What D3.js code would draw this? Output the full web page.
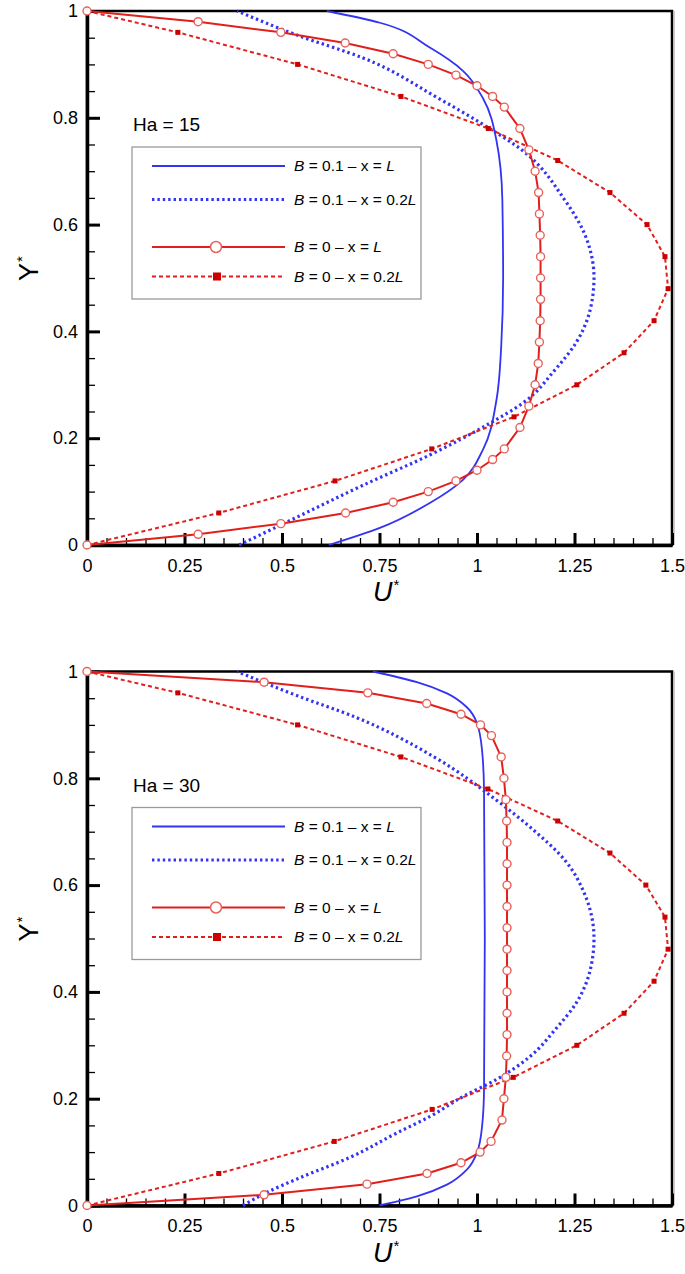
<!DOCTYPE html>
<meta charset="utf-8">
<style>
  body { margin: 0; background: #fff; }
  svg { font-family: "Liberation Sans", Arial, sans-serif; }
  .axis path, .axis line { stroke: #000; fill: none; }
  .axis text { font-size: 18px; fill: #000; }
</style>
<body>
<script src="https://cdn.jsdelivr.net/npm/d3@7"></script>
<script>
// tick values
var uTicks = [0, 0.25, 0.5, 0.75, 1, 1.25, 1.5];
var uTickLabels = ["0", "0.25", "0.5", "0.75", "1", "1.25", "1.5"];
var yTicks = [0, 0.2, 0.4, 0.6, 0.8, 1];
var yTickLabels = ["0", "0.2", "0.4", "0.6", "0.8", "1"];

// legend: B value and x position
var legendB = ["0.1", "0.1", "0", "0"];
var legendX = ["", "0.2", "", "0.2"];

// Ha = 15
var ha15BlueLY = [0, 0.032, 0.079, 0.122, 0.178, 0.272, 0.371, 0.5, 0.646, 0.757, 0.837, 0.888, 0.931, 0.978, 1];
var ha15BlueLU = [0.62, 0.751, 0.88, 0.964, 1.015, 1.05, 1.062, 1.067, 1.065, 1.05, 1.015, 0.964, 0.88, 0.751, 0.615];
var ha15Blue02Y = [0, 0.052, 0.112, 0.169, 0.228, 0.266, 0.328, 0.38, 0.44, 0.5, 0.584, 0.646, 0.738, 0.79, 0.837, 0.912, 0.955, 1];
var ha15Blue02U = [0.39, 0.538, 0.708, 0.88, 1.033, 1.118, 1.2, 1.255, 1.29, 1.30, 1.275, 1.225, 1.118, 1.01, 0.9, 0.708, 0.538, 0.385];
var ha15RedLY = [0, 0.02, 0.04, 0.06, 0.08, 0.10, 0.12, 0.14, 0.16, 0.18, 0.22, 0.26, 0.30, 0.34, 0.38, 0.42, 0.46, 0.50,
                 0.54, 0.58, 0.62, 0.66, 0.70, 0.74, 0.78, 0.82, 0.84, 0.86, 0.88, 0.90, 0.92, 0.94, 0.96, 0.98, 1];
var ha15RedLU = [0, 0.285, 0.497, 0.663, 0.785, 0.875, 0.946, 1.0, 1.04, 1.07, 1.11, 1.133, 1.149, 1.157, 1.16, 1.162, 1.163, 1.163,
                 1.163, 1.162, 1.16, 1.158, 1.149, 1.133, 1.11, 1.07, 1.04, 1.0, 0.946, 0.875, 0.785, 0.662, 0.497, 0.285, 0];
var ha15Red02Y = [0, 0.06, 0.12, 0.18, 0.24, 0.30, 0.36, 0.42, 0.48, 0.54, 0.60, 0.66, 0.72, 0.78, 0.84, 0.90, 0.96, 1];
var ha15Red02U = [0, 0.338, 0.636, 0.884, 1.095, 1.256, 1.377, 1.454, 1.49, 1.482, 1.436, 1.341, 1.207, 1.029, 0.805, 0.54, 0.233, 0];

// Ha = 30
var ha30BlueLY = [0, 0.017, 0.039, 0.067, 0.099, 0.148, 0.217, 0.5, 0.778, 0.852, 0.903, 0.933, 0.959, 0.98, 1];
var ha30BlueLU = [0.75, 0.846, 0.923, 0.974, 1.0, 1.013, 1.018, 1.02, 1.018, 1.013, 1.0, 0.974, 0.923, 0.846, 0.733];
var ha30Blue02Y = [0, 0.024, 0.052, 0.09, 0.136, 0.167, 0.204, 0.236, 0.279, 0.329, 0.38, 0.44, 0.5, 0.585, 0.647, 0.703, 0.759, 0.84, 0.914, 0.955, 1];
var ha30Blue02U = [0.40, 0.46, 0.546, 0.674, 0.795, 0.88, 0.964, 1.05, 1.136, 1.2, 1.255, 1.29, 1.30, 1.275, 1.225, 1.145, 1.05, 0.89, 0.69, 0.538, 0.385];
var ha30RedLY = [0, 0.02, 0.04, 0.06, 0.08, 0.10, 0.12, 0.16, 0.20, 0.24, 0.28, 0.32, 0.36, 0.40, 0.44, 0.48,
                 0.52, 0.56, 0.60, 0.64, 0.68, 0.72, 0.76, 0.80, 0.84, 0.88, 0.90, 0.92, 0.94, 0.96, 0.98, 1];
var ha30RedLU = [0, 0.454, 0.718, 0.872, 0.959, 1.008, 1.036, 1.064, 1.069, 1.074, 1.076, 1.077, 1.077, 1.077, 1.077, 1.077,
                 1.077, 1.077, 1.077, 1.077, 1.077, 1.076, 1.074, 1.069, 1.062, 1.037, 1.009, 0.959, 0.871, 0.72, 0.454, 0];
var ha30Red02Y = [0, 0.06, 0.12, 0.18, 0.24, 0.30, 0.36, 0.42, 0.48, 0.54, 0.60, 0.66, 0.72, 0.78, 0.84, 0.90, 0.96, 1];
var ha30Red02U = [0, 0.338, 0.634, 0.885, 1.093, 1.256, 1.377, 1.454, 1.49, 1.482, 1.433, 1.341, 1.207, 1.028, 0.805, 0.54, 0.233, 0];

var blue = "#3333f4", red = "#e0201c", redMark = "#e8625c", redSq = "#cc0000";

var width = 585, height = 534;

var svg = d3.select("body").append("svg")
  .attr("width", 685)
  .attr("height", 1274);

function zip(us, ys) {
  return ys.map(function (y, i) { return {u: us[i], y: y}; });
}

function panel(top, haText, s) {
  var g = svg.append("g").attr("transform", "translate(87," + top + ")");

  var x = d3.scaleLinear().domain([0, 1.5]).range([0, width]);
  var y = d3.scaleLinear().domain([0, 1]).range([height, 0]);

  // frame
  g.append("rect")
    .attr("width", width).attr("height", height)
    .attr("fill", "none").attr("stroke", "#000").attr("stroke-width", 2.5);
  g.append("line")
    .attr("x1", width + 2).attr("x2", width + 2).attr("y1", 0).attr("y2", height)
    .attr("stroke", "#bbb").attr("stroke-width", 1.5);

  // minor ticks
  g.append("g").attr("class", "axis")
    .attr("transform", "translate(0," + height + ")")
    .call(d3.axisBottom(x).tickValues(d3.range(0, 1.501, 0.05)).tickSize(-7).tickFormat(""))
    .call(function (a) { a.select(".domain").remove(); a.selectAll("line").attr("stroke-width", 1.3); });
  g.append("g").attr("class", "axis")
    .call(d3.axisLeft(y).tickValues(d3.range(0, 1.001, 0.05)).tickSize(-8).tickFormat(""))
    .call(function (a) { a.select(".domain").remove(); a.selectAll("line").attr("stroke-width", 1.3); });

  // major axes
  g.append("g").attr("class", "axis")
    .attr("transform", "translate(0," + height + ")")
    .call(d3.axisBottom(x).tickValues(uTicks).tickSize(-12).tickSizeOuter(0).tickPadding(14)
      .tickFormat(function (d, i) { return uTickLabels[i]; }))
    .call(function (a) {
      a.select(".domain").attr("stroke-width", 3.5);
      a.selectAll("line").attr("stroke-width", 3);
    });
  g.append("g").attr("class", "axis")
    .call(d3.axisLeft(y).tickValues(yTicks).tickSize(-13).tickSizeOuter(0).tickPadding(9)
      .tickFormat(function (d, i) { return yTickLabels[i]; }))
    .call(function (a) {
      a.select(".domain").attr("stroke-width", 3.5);
      a.selectAll("line").attr("stroke-width", 3);
    });

  // axis titles
  var ut = g.append("text")
    .attr("x", 286).attr("y", height + 56)
    .style("font-size", "27px").style("font-style", "italic");
  ut.append("tspan").text("U");
  ut.append("tspan").attr("dy", -11).attr("dx", 1).style("font-size", "15px").style("font-style", "normal").text("*");

  var yt = g.append("text")
    .attr("transform", "translate(-49," + (height / 2 + 3) + ") rotate(-90)")
    .style("font-size", "27px");
  yt.append("tspan").text("Y");
  yt.append("tspan").attr("dy", -11).attr("dx", 1).style("font-size", "15px").text("*");

  g.append("text")
    .attr("x", 46).attr("y", 120)
    .style("font-size", "19px")
    .text(haText);

  var line = d3.line()
    .x(function (d) { return x(d.u); })
    .y(function (d) { return y(d.y); });
  var smooth = d3.line()
    .curve(d3.curveMonotoneY)
    .x(function (d) { return x(d.u); })
    .y(function (d) { return y(d.y); });

  // B = 0.1, x = L
  g.append("path").datum(zip(s.blueLU, s.blueLY))
    .attr("d", smooth).attr("fill", "none").attr("stroke", blue).attr("stroke-width", 1.8);
  // B = 0.1, x = 0.2L
  g.append("path").datum(zip(s.blue02U, s.blue02Y))
    .attr("d", smooth).attr("fill", "none").attr("stroke", blue).attr("stroke-width", 3.2)
    .attr("stroke-dasharray", "2.4,3");
  // B = 0, x = 0.2L
  var r02 = zip(s.red02U, s.red02Y);
  g.append("path").datum(r02)
    .attr("d", line).attr("fill", "none").attr("stroke", red).attr("stroke-width", 2)
    .attr("stroke-dasharray", "4,3");
  g.selectAll(".sq").data(r02).enter().append("rect")
    .attr("class", "sq")
    .attr("x", function (d) { return x(d.u) - 2.5; })
    .attr("y", function (d) { return y(d.y) - 2.5; })
    .attr("width", 5).attr("height", 5)
    .attr("fill", redSq);
  // B = 0, x = L
  var rL = zip(s.redLU, s.redLY);
  g.append("path").datum(rL)
    .attr("d", line).attr("fill", "none").attr("stroke", red).attr("stroke-width", 2);
  g.selectAll(".ci").data(rL).enter().append("circle")
    .attr("class", "ci")
    .attr("cx", function (d) { return x(d.u); })
    .attr("cy", function (d) { return y(d.y); })
    .attr("r", 4)
    .attr("fill", "#fff").attr("stroke", redMark).attr("stroke-width", 1.4);

  // legend
  var lg = g.append("g").attr("transform", "translate(45,136)");
  lg.append("rect")
    .attr("width", 289).attr("height", 152)
    .attr("fill", "#fff").attr("stroke", "#9a9a9a").attr("stroke-width", 1.3);
  var rows = [19, 52.5, 100, 129.5];
  var styles = [
    {c: blue, w: 1.8, dash: null},
    {c: blue, w: 3, dash: "2.4,3"},
    {c: red, w: 2, dash: null},
    {c: red, w: 2, dash: "4,3"}
  ];
  rows.forEach(function (ry, i) {
    lg.append("line")
      .attr("x1", 20).attr("x2", 153).attr("y1", ry).attr("y2", ry)
      .attr("stroke", styles[i].c).attr("stroke-width", styles[i].w)
      .attr("stroke-dasharray", styles[i].dash);
    if (i === 2) {
      lg.append("circle").attr("cx", 84).attr("cy", ry).attr("r", 5.5)
        .attr("fill", "#fff").attr("stroke", redMark).attr("stroke-width", 1.5);
    }
    if (i === 3) {
      lg.append("rect").attr("x", 81).attr("y", ry - 4).attr("width", 8).attr("height", 8)
        .attr("fill", redSq);
    }
    var t = lg.append("text").attr("x", 162).attr("y", ry + 5).style("font-size", "15.5px");
    t.append("tspan").style("font-style", "italic").text("B");
    t.append("tspan").text(" = " + legendB[i] + " \u2013 x = " + legendX[i]);
    t.append("tspan").style("font-style", "italic").text("L");
  });
}

panel(11, "Ha = 15", {
  blueLY: ha15BlueLY, blueLU: ha15BlueLU, blue02Y: ha15Blue02Y, blue02U: ha15Blue02U,
  redLY: ha15RedLY, redLU: ha15RedLU, red02Y: ha15Red02Y, red02U: ha15Red02U
});
panel(671.5, "Ha = 30", {
  blueLY: ha30BlueLY, blueLU: ha30BlueLU, blue02Y: ha30Blue02Y, blue02U: ha30Blue02U,
  redLY: ha30RedLY, redLU: ha30RedLU, red02Y: ha30Red02Y, red02U: ha30Red02U
});
</script>
</body>
